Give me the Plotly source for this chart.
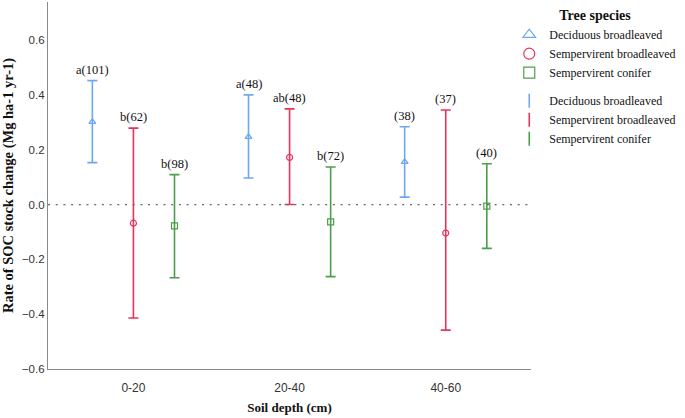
import plotly.graph_objects as go

depth = ["0-20", "20-40", "40-60"]
species = ["Deciduous broadleaved", "Sempervirent broadleaved", "Sempervirent conifer"]

mean_db = [0.302, 0.247, 0.156]
upper_db = [0.452, 0.400, 0.284]
lower_db = [0.153, 0.097, 0.027]
labels_db = ["a(101)", "a(48)", "(38)"]

mean_sb = [-0.068, 0.172, -0.104]
upper_sb = [0.279, 0.349, 0.345]
lower_sb = [-0.414, 0.0, -0.458]
labels_sb = ["b(62)", "ab(48)", "(37)"]

mean_sc = [-0.078, -0.063, -0.006]
upper_sc = [0.109, 0.137, 0.149]
lower_sc = [-0.267, -0.263, -0.160]
labels_sc = ["b(98)", "b(72)", "(40)"]

yticks = [-0.6, -0.4, -0.2, 0.0, 0.2, 0.4, 0.6]

colors = ["#6FA8EE", "#E6335C", "#4C9E4C"]
symbols = ["triangle-up-open", "circle-open", "square-open"]
offsets = [-0.263, 0.0, 0.263]

series = [
    (mean_db, upper_db, lower_db, labels_db),
    (mean_sb, upper_sb, lower_sb, labels_sb),
    (mean_sc, upper_sc, lower_sc, labels_sc),
]

fig = go.Figure()
annotations = []
for i, (m, up, lo, lab) in enumerate(series):
    xs = [k + offsets[i] for k in range(len(depth))]
    fig.add_trace(go.Scatter(
        x=xs, y=m, mode="markers", showlegend=False,
        marker=dict(symbol=symbols[i], size=6, color=colors[i], line=dict(width=1.2, color=colors[i])),
        error_y=dict(type="data", symmetric=False,
                     array=[u - v for u, v in zip(up, m)],
                     arrayminus=[v - l for v, l in zip(m, lo)],
                     color=colors[i], thickness=1.6, width=5),
    ))
    for x, u, t in zip(xs, up, lab):
        annotations.append(dict(x=x, y=u, text=t, showarrow=False, yanchor="bottom", yshift=2,
                                font=dict(family="Liberation Serif", size=12.5, color="#111")))

# legend entries: markers group
for i, name in enumerate(species):
    fig.add_trace(go.Scatter(
        x=[None], y=[None], mode="markers", name=name, legendgroup="markers",
        marker=dict(symbol=symbols[i], size=11, color=colors[i], line=dict(width=1.2, color=colors[i])),
    ))
# legend entries: error-bar group
for i, name in enumerate(species):
    fig.add_trace(go.Scatter(
        x=[None], y=[None], mode="markers", name=name, legendgroup="bars",
        marker=dict(symbol="line-ns-open", size=10, color=colors[i], line=dict(width=1.6, color=colors[i])),
    ))

fig.add_shape(type="line", xref="paper", yref="y", x0=0, x1=1, y0=0, y1=0,
              line=dict(color="#666", width=1.3, dash="2px,5.7px"))

fig.update_layout(
    width=685, height=418,
    margin=dict(l=48, r=154, t=2, b=49, autoexpand=False),
    paper_bgcolor="white", plot_bgcolor="white",
    annotations=annotations,
    showlegend=True,
    legend=dict(
        x=0.955, xanchor="left", y=1.0, yanchor="top",
        title=dict(text="<b>Tree species</b>", side="top center",
                   font=dict(family="Liberation Serif", size=14, color="#111")),
        font=dict(family="Liberation Serif", size=12, color="#111"),
        tracegroupgap=9, itemwidth=30,
        bgcolor="rgba(0,0,0,0)",
    ),
    xaxis=dict(
        range=[-0.547, 2.546], tickvals=[0, 1, 2], ticktext=depth,
        showline=True, linecolor="#8a8a8a", linewidth=1.2, showgrid=False, zeroline=False,
        ticks="outside", ticklen=7, tickcolor="rgba(0,0,0,0)",
        tickfont=dict(family="Liberation Sans", size=12, color="#333"),
        title=dict(text="<b>Soil depth (cm)</b>", standoff=9,
                   font=dict(family="Liberation Serif", size=13, color="#111")),
    ),
    yaxis=dict(
        range=[-0.6, 0.739], tickvals=yticks, tickformat=".1f",
        showline=True, linecolor="#8a8a8a", linewidth=1.2, showgrid=False, zeroline=False,
        ticks="", tickfont=dict(family="Liberation Sans", size=11.5, color="#333"),
        title=dict(text="<b>Rate of SOC stock change (Mg ha-1 yr-1)</b>", standoff=6,
                   font=dict(family="Liberation Serif", size=14.5, color="#111")),
    ),
)

fig.write_html("out.html", config={"displayModeBar": False},
               post_script="document.body.style.margin='0';")
